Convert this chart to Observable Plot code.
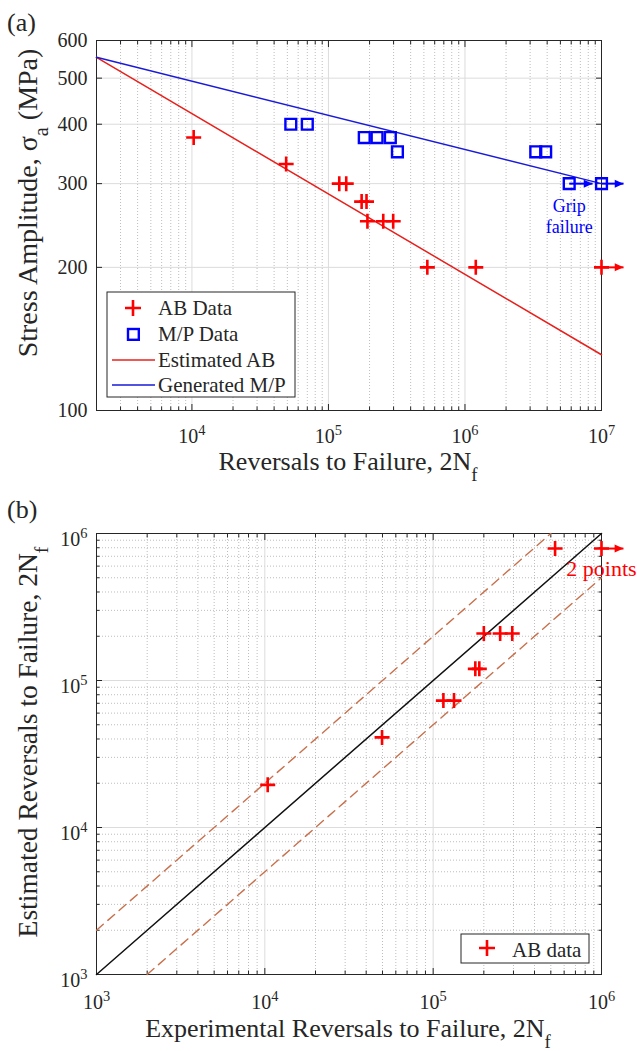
<!DOCTYPE html>
<html><head><meta charset="utf-8">
<script src="https://cdn.jsdelivr.net/npm/d3@7"></script>
<script src="https://cdn.jsdelivr.net/npm/@observablehq/plot@0.6"></script>
<style>
html,body{margin:0;padding:0;background:#fff;}
svg{display:block;}
</style></head>
<body><div id="chart"></div>
<script>
// ---------------- Data: panel (a) ----------------
const abCycles  = [1.03e4, 4.9e4, 1.2e5, 1.35e5, 1.75e5, 1.9e5, 1.93e5, 2.52e5, 2.98e5, 5.3e5, 1.2e6, 1e7];
const abStress  = [375, 330, 300, 300, 275, 275, 250, 250, 250, 200, 200, 200];
const mpCycles  = [5.3e4, 7.0e4, 1.83e5, 2.27e5, 2.84e5, 3.2e5, 3.3e6, 3.9e6, 5.8e6, 1e7];
const mpStress  = [400, 400, 375, 375, 375, 350, 350, 350, 300, 300];
const fitCycles = [2e3, 1e7];
const abFitStress = [553, 131];
const mpFitStress = [553, 300];
const mpRunFrom = [5.8e6, 1e7];
const mpRunTo   = [8.6e6, 1.45e7];
const mpRunStress = [300, 300];
const abRunFrom = [1e7];
const abRunTo   = [1.45e7];
const abRunStress = [200];
const xTicksA = [1e4, 1e5, 1e6, 1e7];
const yTicksA = [100, 200, 300, 400, 500, 600];

// ---------------- Data: panel (b) ----------------
const expCycles = [1.04e4, 4.97e4, 1.15e5, 1.33e5, 1.78e5, 1.88e5, 2.0e5, 2.5e5, 2.95e5, 5.3e5, 1e6];
const estCycles = [1.95e4, 4.1e4, 7.3e4, 7.3e4, 1.2e5, 1.2e5, 2.09e5, 2.09e5, 2.09e5, 7.9e5, 7.9e5];
const unityX = [1e3, 1e6], unityY = [1e3, 1e6];
const upperX = [1e3, 5e5], upperY = [2e3, 1e6];
const lowerX = [2e3, 1e6], lowerY = [1e3, 5e5];
const bRunFrom = [1e6], bRunTo = [1.35e6], bRunEst = [7.9e5];
const ticksB = [1e3, 1e4, 1e5, 1e6];

// ---------------- helpers ----------------
const FONT = "'Liberation Serif','Times New Roman',Times,serif";
const W = 637;
const RED = "#ff0000", BLUE = "#0000ff";
const zip2 = (a, b) => a.map((v, i) => ({x: v, y: b[i]}));
const minorOf = (lo, hi) => { const out = []; for (let e = lo; e < hi; e++) for (let m = 2; m <= 9; m++) out.push(m * 10 ** e); return out; };

const plusSymbol = {draw(ctx, size) { const r = Math.sqrt(size / Math.PI); ctx.moveTo(-r, 0); ctx.lineTo(r, 0); ctx.moveTo(0, -r); ctx.lineTo(0, r); }};
const squareSymbol = {draw(ctx, size) { const r = Math.sqrt(size / Math.PI); ctx.rect(-r, -r, 2 * r, 2 * r); }};
const headSymbol = {draw(ctx, size) { const r = Math.sqrt(size / Math.PI); ctx.moveTo(0, 0); ctx.lineTo(-2.2 * r, -r); ctx.lineTo(-2.2 * r, r); ctx.closePath(); }};
const pow10 = d => "10^" + Math.round(Math.log10(d));

function arrowMarks(from, to, ys, color) {
  const data = from.map((f, i) => ({x1: f, x2: to[i], y: ys[i]}));
  return [
    Plot.link(data, {x1: "x1", x2: "x2", y1: "y", y2: "y", stroke: color, strokeWidth: 2}),
    Plot.dot(data, {x: "x2", y: "y", symbol: headSymbol, r: 4, fill: color, stroke: "none"})
  ];
}

function frameTicks(xMaj, xMin, yMaj, yMin) {
  const m = [];
  for (const anchor of ["bottom", "top"]) {
    m.push(Plot.axisX({anchor, ticks: xMaj, tickSize: -6, tickFormat: () => "", label: null, stroke: "#262626"}));
    if (xMin.length) m.push(Plot.axisX({anchor, ticks: xMin, tickSize: -3.5, tickFormat: () => "", label: null, stroke: "#262626"}));
  }
  for (const anchor of ["left", "right"]) {
    m.push(Plot.axisY({anchor, ticks: yMaj, tickSize: -6, tickFormat: () => "", label: null, stroke: "#262626"}));
    if (yMin.length) m.push(Plot.axisY({anchor, ticks: yMin, tickSize: -3.5, tickFormat: () => "", label: null, stroke: "#262626"}));
  }
  return m;
}

function superscriptTicks(svg) {
  d3.select(svg).selectAll('g[aria-label$="tick label"] text').each(function() {
    const m = /^10\^(-?\d+)$/.exec(this.textContent);
    if (m) {
      const s = d3.select(this);
      s.text("10");
      s.append("tspan").attr("dy", "-0.55em").attr("font-size", "0.72em").text(m[1]);
    }
  });
}

function addText(g, x, y, parts, opts = {}) {
  const t = g.append("text").attr("x", x).attr("y", y)
    .attr("font-family", FONT).attr("font-size", opts.size || 26)
    .attr("fill", opts.fill || "#262626")
    .attr("text-anchor", opts.anchor || "start");
  if (opts.rotate) t.attr("transform", `rotate(${opts.rotate},${x},${y})`);
  for (const p of parts) {
    if (typeof p === "string") t.append("tspan").text(p);
    else t.append("tspan").attr("baseline-shift", "sub").attr("font-size", "0.72em").text(p.sub);
  }
  return t;
}

// ---------------- Panel (a) ----------------
const xMinorA = minorOf(3, 7).filter(v => v >= 2e3);
const plotA = Plot.plot({
  width: W, height: 490,
  marginLeft: 96, marginRight: 36, marginTop: 40, marginBottom: 80,
  x: {type: "log", domain: [2e3, 1e7]},
  y: {type: "log", domain: [100, 600]},
  style: {fontFamily: FONT, fontSize: "20px", color: "#262626", background: "white", overflow: "visible"},
  marks: [
    Plot.ruleX(xMinorA, {stroke: "#bdbdbd", strokeDasharray: "1,2"}),
    Plot.ruleX(xTicksA, {stroke: "#dcdcdc"}),
    Plot.ruleY(yTicksA, {stroke: "#dcdcdc"}),
    Plot.frame({stroke: "#262626"}),
    ...frameTicks(xTicksA, xMinorA, yTicksA, []),
    Plot.axisX({anchor: "bottom", ticks: xTicksA, tickSize: 0, tickPadding: 18, tickFormat: pow10, label: null, fontSize: 20}),
    Plot.axisY({anchor: "left", ticks: yTicksA, tickSize: 0, tickPadding: 9, tickFormat: d => String(d), label: null, fontSize: 20}),
    Plot.line(zip2(fitCycles, abFitStress), {x: "x", y: "y", stroke: "#e8201c", strokeWidth: 1.5}),
    Plot.line(zip2(fitCycles, mpFitStress), {x: "x", y: "y", stroke: "#1a1ad8", strokeWidth: 1.5}),
    ...arrowMarks(mpRunFrom, mpRunTo, mpRunStress, BLUE),
    ...arrowMarks(abRunFrom, abRunTo, abRunStress, RED),
    Plot.dot(zip2(abCycles, abStress), {x: "x", y: "y", symbol: plusSymbol, r: 7.5, stroke: RED, strokeWidth: 2.6, fill: "none"}),
    Plot.dot(zip2(mpCycles, mpStress), {x: "x", y: "y", symbol: squareSymbol, r: 5.4, stroke: BLUE, strokeWidth: 2.4, fill: "none"}),
    Plot.text([{x: mpRunFrom[0], y: 300}], {x: "x", y: "y", text: () => "Grip\nfailure", fill: BLUE, fontSize: 18, lineAnchor: "top", lineHeight: 1.17, dy: 13, textAnchor: "middle"})
  ]
});
superscriptTicks(plotA);
{
  const g = d3.select(plotA).append("g");
  addText(g, 7, 31, ["(a)"], {size: 26});
  addText(g, 348, 470, ["Reversals to Failure, 2N", {sub: "f"}], {anchor: "middle"});
  addText(g, 37, 203, ["Stress Amplitude, \u03c3", {sub: "a"}, " (MPa)"], {anchor: "middle", rotate: -90, size: 28});
  // legend
  const L = g.append("g");
  L.append("rect").attr("x", 107).attr("y", 292).attr("width", 188).attr("height", 105).attr("fill", "white").attr("stroke", "#262626");
  const rows = [315, 341, 367, 392];
  L.append("path").attr("d", "M125,308H141M133,300V316").attr("stroke", RED).attr("stroke-width", 2.6);
  L.append("rect").attr("x", 128).attr("y", 329).attr("width", 10.8).attr("height", 10.8).attr("fill", "none").attr("stroke", BLUE).attr("stroke-width", 2.4);
  L.append("line").attr("x1", 112).attr("x2", 155).attr("y1", 360).attr("y2", 360).attr("stroke", "#e8201c").attr("stroke-width", 1.5);
  L.append("line").attr("x1", 112).attr("x2", 155).attr("y1", 385).attr("y2", 385).attr("stroke", "#1a1ad8").attr("stroke-width", 1.5);
  ["AB Data", "M/P Data", "Estimated AB", "Generated M/P"].forEach((t, i) => addText(L, 158, rows[i], [t], {size: 21}));
}

// ---------------- Panel (b) ----------------
const minorB = minorOf(3, 6);
const plotB = Plot.plot({
  width: W, height: 561,
  marginLeft: 96, marginRight: 36, marginTop: 43, marginBottom: 77,
  x: {type: "log", domain: [1e3, 1e6]},
  y: {type: "log", domain: [1e3, 1e6]},
  style: {fontFamily: FONT, fontSize: "20px", color: "#262626", background: "white", overflow: "visible"},
  marks: [
    Plot.ruleX(minorB, {stroke: "#bdbdbd", strokeDasharray: "1,2"}),
    Plot.ruleY(minorB, {stroke: "#bdbdbd", strokeDasharray: "1,2"}),
    Plot.ruleX(ticksB, {stroke: "#dcdcdc"}),
    Plot.ruleY(ticksB, {stroke: "#dcdcdc"}),
    Plot.frame({stroke: "#262626"}),
    ...frameTicks(ticksB, minorB, ticksB, minorB),
    Plot.axisX({anchor: "bottom", ticks: ticksB, tickSize: 0, tickPadding: 20, tickFormat: pow10, label: null, fontSize: 20}),
    Plot.axisY({anchor: "left", ticks: ticksB, tickSize: 0, tickPadding: 9, tickFormat: pow10, label: null, fontSize: 20, dy: 6}),
    Plot.line(zip2(upperX, upperY), {x: "x", y: "y", stroke: "#c8704c", strokeWidth: 1.4, strokeDasharray: "9,6"}),
    Plot.line(zip2(lowerX, lowerY), {x: "x", y: "y", stroke: "#c8704c", strokeWidth: 1.4, strokeDasharray: "9,6"}),
    Plot.line(zip2(unityX, unityY), {x: "x", y: "y", stroke: "#111", strokeWidth: 1.5}),
    ...arrowMarks(bRunFrom, bRunTo, bRunEst, RED),
    Plot.dot(zip2(expCycles, estCycles), {x: "x", y: "y", symbol: plusSymbol, r: 7.5, stroke: RED, strokeWidth: 2.6, fill: "none"}),
    Plot.text([{x: bRunFrom[0], y: bRunEst[0]}], {x: "x", y: "y", text: () => "2 points", fill: RED, fontSize: 22, textAnchor: "middle", dy: 20})
  ]
});
superscriptTicks(plotB);
{
  const g = d3.select(plotB).append("g");
  addText(g, 7, 28, ["(b)"], {size: 26});
  addText(g, 348, 547, ["Experimental Reversals to Failure, 2N", {sub: "f"}], {anchor: "middle"});
  addText(g, 37, 252, ["Estimated Reversals to Failure, 2N", {sub: "f"}], {anchor: "middle", rotate: -90, size: 27.5});
  const L = g.append("g");
  L.append("rect").attr("x", 461).attr("y", 444).attr("width", 128).attr("height", 29).attr("fill", "white").attr("stroke", "#262626");
  L.append("path").attr("d", "M479,458H495M487,450V466").attr("stroke", RED).attr("stroke-width", 2.6);
  addText(L, 512, 467, ["AB data"], {size: 21});
}

const root = document.getElementById("chart");
root.appendChild(plotA);
root.appendChild(plotB);
</script>
</body></html>
